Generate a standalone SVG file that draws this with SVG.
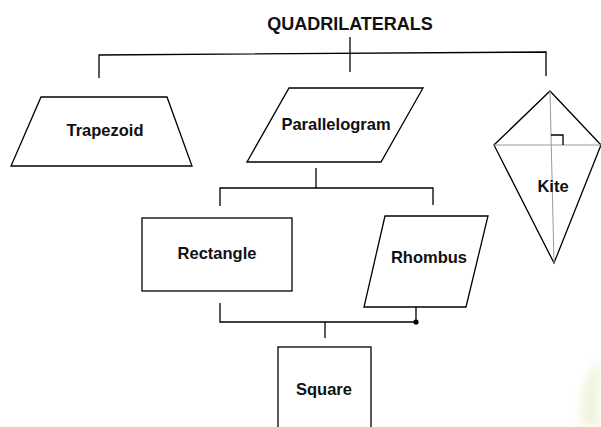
<svg xmlns="http://www.w3.org/2000/svg" width="601" height="427" viewBox="0 0 601 427">
<defs>
<style>
.shape{fill:#fff;stroke:#000;stroke-width:1.3}
.conn{fill:none;stroke:#000;stroke-width:1.3}
.diag{fill:none;stroke:#9a9a9a;stroke-width:1}
.lbl{font-family:"Liberation Sans",Arial,sans-serif;font-weight:bold;font-size:16.5px;fill:#111;text-anchor:middle}
.title{font-family:"Liberation Sans",Arial,sans-serif;font-weight:bold;font-size:18px;fill:#111;text-anchor:middle}
</style>
<filter id="blur" x="-50%" y="-50%" width="200%" height="200%"><feGaussianBlur stdDeviation="4"/></filter>
</defs>
<rect width="601" height="427" fill="#fff"/>
<g id="watermark" filter="url(#blur)" opacity="0.45">
<path d="M601 360 C585 370 578 395 580 427 L601 427 Z" fill="#e6ecc4"/>
<path d="M596 370 C588 385 588 410 592 427" fill="none" stroke="#d8e0a8" stroke-width="5"/>
</g>
<text id="title" class="title" x="350" y="30">QUADRILATERALS</text>
<g id="connectors">
<line class="conn" x1="350" y1="37" x2="350" y2="72"/>
<polyline class="conn" points="99,78 99,55 546,52 546,76"/>
<line class="conn" x1="316" y1="168" x2="316" y2="188"/>
<polyline class="conn" points="220,206 220,188 433,188 433,205"/>
<polyline class="conn" points="220,303 220,322 416,322 416,307"/>
<line class="conn" x1="325" y1="322" x2="325" y2="338"/>
<circle cx="416" cy="322" r="2.6" fill="#000"/>
</g>
<g id="trapezoid">
<polygon class="shape" points="41,97 167,97 192,166 11,166"/>
<text class="lbl" x="105" y="136">Trapezoid</text>
</g>
<g id="parallelogram">
<polygon class="shape" points="289,88 423,88 381,162 247,162"/>
<text class="lbl" x="336" y="130">Parallelogram</text>
</g>
<g id="kite">
<polygon class="shape" points="550,91 601,145 554,263 494,145"/>
<line class="diag" x1="550" y1="91" x2="554" y2="263"/>
<line class="diag" x1="494" y1="145" x2="601" y2="145"/>
<polyline class="conn" stroke-width="1" points="551,135 563,135 563,145"/>
<text class="lbl" x="553" y="192">Kite</text>
</g>
<g id="rectangle">
<rect class="shape" x="142" y="218" width="150" height="73"/>
<text class="lbl" x="217" y="259">Rectangle</text>
</g>
<g id="rhombus">
<polygon class="shape" points="385,216 488,216 466,307 364,307"/>
<text class="lbl" x="429" y="263">Rhombus</text>
</g>
<g id="square">
<rect class="shape" x="278" y="347" width="93" height="90"/>
<text class="lbl" x="324" y="395">Square</text>
</g>
</svg>
